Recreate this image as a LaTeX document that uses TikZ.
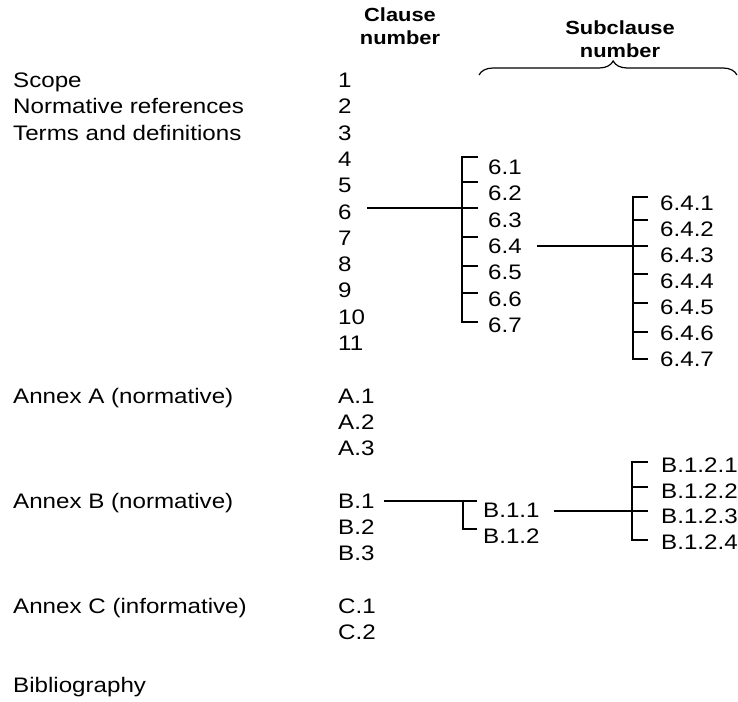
\documentclass[tikz,border=0pt]{standalone}
\usepackage{fontspec}
\setmainfont[FakeStretch=1.15]{Liberation Sans}
\usetikzlibrary{decorations.pathreplacing}

\tikzset{
  entry/.style={anchor=base west, inner sep=0pt, font=\fontsize{21}{25}\selectfont},
  head/.style={anchor=base, inner sep=0pt, font=\fontsize{19}{23}\selectfont\bfseries},
  link/.style={line width=1.8pt},
}

\begin{document}
\begin{tikzpicture}[x=1pt, y=-1pt]
  \useasboundingbox (0,0) rectangle (738,701);
  % headings
  \node[head] (clausehd) at (400,22) {Clause};
  \node[head] (clausehdb) at (400,45) {number};
  \node[head] (subhd) at (620,35) {Subclause};
  \node[head] (subhdb) at (620,57) {number};
  \draw[line width=1.2pt, decorate, decoration={brace, amplitude=14pt, aspect=0.52}] (479,75) -- (737,75);
  % titles
  \foreach \r/\t/\id in {1/Scope/scope, 2/Normative references/normref, 3/Terms and definitions/terms,
      13/Annex A (normative)/annexA, 17/Annex B (normative)/annexB, 21/Annex C (informative)/annexC, 24/Bibliography/biblio}
    \node[entry] (\id) at (13, {87.5+(\r-1)*26.3}) {\t};
  % clause numbers
  \foreach \r/\n/\id in {1/1/c1, 2/2/c2, 3/3/c3, 4/4/c4, 5/5/c5, 6/6/c6, 7/7/c7, 8/8/c8, 9/9/c9, 10/10/c10, 11/11/c11,
      13/A.1/cA1, 14/A.2/cA2, 15/A.3/cA3, 17/B.1/cB1, 18/B.2/cB2, 19/B.3/cB3, 21/C.1/cC1, 22/C.2/cC2}
    \node[entry] (\id) at (338, {87.5+(\r-1)*26.3}) {\n};
  % subclauses of 6
  \foreach \k in {1,...,7}
    \node[entry] (s6\k) at (488, {174.5+(\k-1)*26.3}) {6.\k};
  \draw[link] (478,157) -- (462,157) -- (462,322) -- (478,322);
  \foreach \y in {182,237,266,293} \draw[link] (462,\y) -- (478,\y);
  \coordinate (t63) at (478,208);
  \draw[link] (c6.east |- t63) ++(15,0) -- (t63);
  % subclauses of 6.4
  \foreach \k in {1,...,7}
    \node[entry] (s64\k) at (660, {210.5+(\k-1)*26}) {6.4.\k};
  \draw[link] (648,197) -- (633,197) -- (633,359) -- (648,359);
  \foreach \y in {220,274,303,332} \draw[link] (633,\y) -- (648,\y);
  \coordinate (t643) at (648,246);
  \draw[link] (s64.east |- t643) ++(15,0) -- (t643);
  % annex B
  \node[entry] (sB11) at (483,517.5) {B.1.1};
  \node[entry] (sB12) at (483,543.5) {B.1.2};
  \coordinate (tB11) at (477,501);
  \draw[link] (cB1.east |- tB11) ++(9,0) -- (tB11);
  \draw[link] (463,501) -- (463,529) -- (477,529);
  \foreach \k in {1,...,4}
    \node[entry] (sB12\k) at (661, {472.5+(\k-1)*25.5}) {B.1.2.\k};
  \draw[link] (648,462) -- (632,462) -- (632,540) -- (648,540);
  \draw[link] (632,487) -- (648,487);
  \coordinate (tB123) at (648,511);
  \draw[link] (sB11.east |- tB123) ++(14,0) -- (tB123);
\end{tikzpicture}
\end{document}
